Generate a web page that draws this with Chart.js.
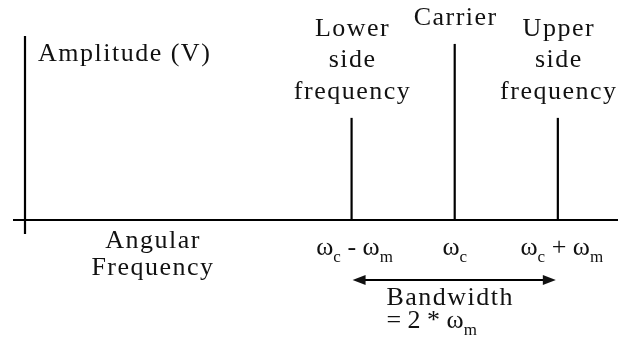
<!DOCTYPE html>
<html>
<head>
<meta charset="utf-8">
<script src="https://cdn.jsdelivr.net/npm/chart.js@4"></script>
<style>
  html, body { margin: 0; padding: 0; background: #fff; }
  canvas { display: block; }
</style>
</head>
<body>
<canvas id="spectrumChart" width="618" height="347"></canvas>
<script>
// spectrum of an AM signal: carrier + two side frequencies
const compFreq = [76, 100, 124];            // wc - wm, wc, wc + wm
const compAmp = [0.58, 1, 0.58];
const compLabels = [["Lower", "side", "frequency"], ["Carrier"], ["Upper", "side", "frequency"]];
// tick labels as [text, isSubscript] pieces
const tickLabels = [
    [["ω", 0], ["c", 1], [" - ", 0], ["ω", 0], ["m", 1]],
    [["ω", 0], ["c", 1]],
    [["ω", 0], ["c", 1], [" + ", 0], ["ω", 0], ["m", 1]]
];
const yTitle = "Amplitude (V)";
const xTitle = ["Angular", "Frequency"];
const bwLines = ["Bandwidth", [["= 2 * ", 0], ["ω", 0], ["m", 1]]];

const FONT = "26px 'Liberation Serif', 'DejaVu Serif', serif";
const SUB = "17px 'Liberation Serif', 'DejaVu Serif', serif";

function richWidth(ctx, parts) {
    let w = 0;
    parts.forEach(p => { ctx.font = p[1] ? SUB : FONT; w += ctx.measureText(p[0]).width; });
    return w;
}

function drawRich(ctx, parts, x, y, align) {
    let cx = align === "center" ? x - richWidth(ctx, parts) / 2 : x;
    ctx.textAlign = "left";
    parts.forEach(p => {
        ctx.font = p[1] ? SUB : FONT;
        ctx.fillText(p[0], cx, p[1] ? y + 7 : y);
        cx += ctx.measureText(p[0]).width;
    });
}

const diagramPlugin = {
    id: "diagram",
    afterDraw(chart) {
        const ctx = chart.ctx;
        const xs = chart.scales.x, ys = chart.scales.y;
        const y0 = ys.getPixelForValue(0);
        const x0 = xs.left;
        ctx.save();
        ctx.strokeStyle = "#000";
        ctx.fillStyle = "#111";
        ctx.lineWidth = 2.2;
        // axes, crossing like a plus
        ctx.beginPath();
        ctx.moveTo(x0 - 12, y0); ctx.lineTo(chart.width, y0);
        ctx.moveTo(x0, ys.top); ctx.lineTo(x0, y0 + 14);
        ctx.stroke();

        ctx.letterSpacing = "1.5px";
        ctx.textBaseline = "alphabetic";
        ctx.font = FONT;

        // y title
        ctx.textAlign = "left";
        ctx.fillText(yTitle, x0 + 13, ys.top + 25);

        // component labels above each stem
        compFreq.forEach((f, i) => {
            const px = xs.getPixelForValue(f);
            const top = ys.getPixelForValue(compAmp[i]);
            const lines = compLabels[i];
            ctx.font = FONT;
            ctx.letterSpacing = "1.5px";
            ctx.textAlign = "center";
            lines.forEach((t, j) => {
                ctx.fillText(t, px + 1, top - 19 - (lines.length - 1 - j) * 31.5);
            });
            ctx.letterSpacing = "0px";
            drawRich(ctx, tickLabels[i], px + (i === 0 ? 3 : i === 2 ? 4 : 0), y0 + 35, "center");
        });

        // x title
        ctx.letterSpacing = "1.5px";
        ctx.font = FONT;
        ctx.textAlign = "center";
        ctx.fillText(xTitle[0], x0 + 128, y0 + 28);
        ctx.fillText(xTitle[1], x0 + 128, y0 + 55);

        // bandwidth arrow
        const xa = xs.getPixelForValue(compFreq[0]) + 1;
        const xb = xs.getPixelForValue(compFreq[2]) - 2;
        const ya = y0 + 60;
        ctx.lineWidth = 2;
        ctx.beginPath();
        ctx.moveTo(xa + 8, ya); ctx.lineTo(xb - 8, ya);
        ctx.stroke();
        ctx.beginPath();
        ctx.moveTo(xa, ya); ctx.lineTo(xa + 13, ya - 5); ctx.lineTo(xa + 13, ya + 5); ctx.closePath();
        ctx.moveTo(xb, ya); ctx.lineTo(xb - 13, ya - 5); ctx.lineTo(xb - 13, ya + 5); ctx.closePath();
        ctx.fill();

        ctx.font = FONT;
        const bw = ctx.measureText(bwLines[0]).width;
        const bl = (xa + xb) / 2 - 4 - bw / 2;
        ctx.textAlign = "left";
        ctx.fillText(bwLines[0], bl, y0 + 85);
        ctx.letterSpacing = "0px";
        drawRich(ctx, bwLines[1], bl, y0 + 108, "left");
        ctx.restore();
    }
};

const ctx = document.getElementById("spectrumChart").getContext("2d");

new Chart(ctx, {
    type: "scatter",
    data: {
        datasets: compFreq.map((f, i) => ({
            label: compLabels[i].join(" "),
            data: [{ x: f, y: 0 }, { x: f, y: compAmp[i] }],
            showLine: true,
            borderColor: "#000",
            borderWidth: 2.2,
            pointRadius: 0,
            clip: false
        }))
    },
    options: {
        responsive: false,
        animation: false,
        layout: { padding: { left: 25, right: 0, top: 36, bottom: 127 } },
        scales: {
            x: { type: "linear", min: 0, max: 138, display: false },
            y: { min: 0, max: 1.045, display: false }
        },
        plugins: {
            legend: { display: false },
            tooltip: { enabled: false }
        }
    },
    plugins: [diagramPlugin]
});
</script>
</body>
</html>
